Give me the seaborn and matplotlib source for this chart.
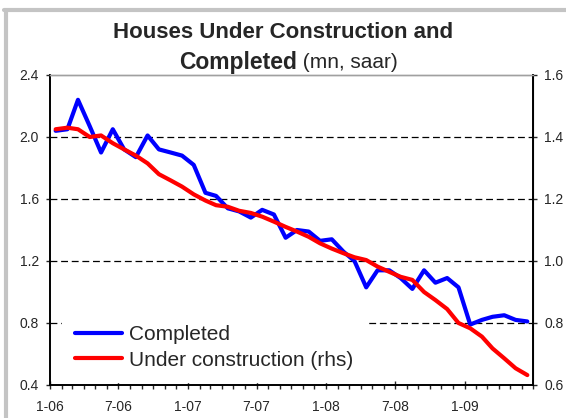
import numpy as np
import pandas as pd
import matplotlib
matplotlib.use("Agg")
import matplotlib.pyplot as plt
import matplotlib.dates as mdates
import matplotlib.ticker as mticker
import seaborn as sns

# monthly data, Jan 2006 - Jun 2009 (mn units, saar)
months = pd.date_range("2006-01-01", periods=42, freq="MS")
completed = [2.04, 2.05, 2.24, 2.07, 1.90, 2.05, 1.92, 1.87, 2.01, 1.92, 1.90, 1.88,
             1.82, 1.64, 1.62, 1.54, 1.52, 1.48, 1.53, 1.50, 1.35, 1.40, 1.39, 1.33,
             1.34, 1.26, 1.20, 1.03, 1.14, 1.14, 1.09, 1.02, 1.14, 1.06, 1.09, 1.03,
             0.79, 0.82, 0.84, 0.85, 0.82, 0.81]
under_construction = [1.425, 1.43, 1.425, 1.40, 1.405, 1.38, 1.36, 1.34, 1.315, 1.28, 1.26, 1.24,
                      1.215, 1.195, 1.18, 1.175, 1.162, 1.155, 1.143, 1.127, 1.11, 1.095, 1.078, 1.057,
                      1.04, 1.025, 1.012, 1.003, 0.982, 0.965, 0.949, 0.939, 0.90, 0.874, 0.845, 0.80,
                      0.783, 0.756, 0.718, 0.686, 0.654, 0.632]
x_tick_dates = ["2006-01-01", "2006-07-01", "2007-01-01", "2007-07-01",
                "2008-01-01", "2008-07-01", "2009-01-01"]
x_tick_labels = ["1-06", "7-06", "1-07", "7-07", "1-08", "7-08", "1-09"]
left_ticks = [0.4, 0.8, 1.2, 1.6, 2.0, 2.4]
right_ticks = [0.6, 0.8, 1.0, 1.2, 1.4, 1.6]

sns.set_style("white")
plt.rcParams["font.family"] = ["Liberation Sans", "DejaVu Sans"]

df = pd.DataFrame({"date": months + pd.Timedelta(days=15),
                   "completed": completed,
                   "under": under_construction})

fig = plt.figure(figsize=(5.66, 4.18), dpi=100)
ax = fig.add_axes([50 / 566, 1 - 385 / 418, 483 / 566, 310 / 418])
ax2 = ax.twinx()

sns.lineplot(data=df, x="date", y="completed", ax=ax, color="#0000ff", lw=3, legend=False)
sns.lineplot(data=df, x="date", y="under", ax=ax2, color="#ff0000", lw=3, legend=False)

ax.set_xlim(pd.Timestamp("2006-01-01"), pd.Timestamp("2009-07-01"))
ax.set_ylim(0.4, 2.4)
ax2.set_ylim(0.6, 1.6)
ax.set_yticks(left_ticks)
ax2.set_yticks(right_ticks)
ax.yaxis.set_major_formatter(plt.FormatStrFormatter("%.1f"))
ax2.yaxis.set_major_formatter(plt.FormatStrFormatter("%.1f"))
ax.set_xlabel("")
ax.set_ylabel("")
ax2.set_ylabel("")

ax.xaxis.set_major_locator(mticker.FixedLocator(mdates.date2num(pd.to_datetime(x_tick_dates))))
ax.xaxis.set_major_formatter(mticker.FixedFormatter(x_tick_labels))
ax.xaxis.set_minor_locator(mdates.MonthLocator())

# dashed grid at inner levels only
for v in [0.8, 1.2, 1.6, 2.0]:
    ax.axhline(v, color="black", lw=0.9, linestyle=(0, (5.5, 3)), zorder=0)

for s in ["left", "bottom"]:
    ax.spines[s].set_color("black")
    ax.spines[s].set_linewidth(1.4)
ax2.spines["right"].set_color("black")
ax2.spines["right"].set_linewidth(1.4)
for a in (ax, ax2):
    a.spines["top"].set_color("#a0a0a0")
    a.spines["top"].set_linewidth(1.0)
ax2.spines["left"].set_visible(False)
ax2.spines["bottom"].set_visible(False)

ax.tick_params(axis="y", direction="out", length=3, width=1, labelsize=10, pad=5, left=True)
ax2.tick_params(axis="y", direction="out", length=3, width=1, labelsize=10, pad=5, right=True)
ax.tick_params(axis="x", which="major", direction="inout", length=6, width=1, labelsize=10, pad=8, bottom=True)
ax.tick_params(axis="x", which="minor", direction="out", length=3, width=1, bottom=True)

leg = ax2.legend(handles=[ax.lines[0], ax2.lines[0]],
                 labels=["Completed", "Under construction (rhs)"],
                 loc="upper left", bbox_to_anchor=(62 / 566, 1 - 313 / 418),
                 bbox_transform=fig.transFigure, fontsize=15, frameon=True,
                 fancybox=False, framealpha=1, facecolor="white", edgecolor="white",
                 handlelength=2.3, handletextpad=0.3, labelspacing=0.3,
                 borderpad=0.6, borderaxespad=0)

# title
fig.text(283 / 566, 1 - 32 / 418, "Houses Under Construction and", ha="center", va="center",
         fontsize=16, fontweight="bold")
fig.text(297 / 566, 1 - 62 / 418, "Completed", ha="right", va="center",
         fontsize=16.5, fontweight="bold")
fig.text(297 / 566, 1 - 62 / 418, " (mn, saar)", ha="left", va="center", fontsize=15)

# grey frame of the original screenshot
fig.add_artist(plt.Line2D([4 / 566, 1], [1 - 10 / 418, 1 - 10 / 418], transform=fig.transFigure,
                          color="#c4c4c4", lw=3))
fig.add_artist(plt.Line2D([6 / 566, 6 / 566], [0, 1 - 10 / 418], transform=fig.transFigure,
                          color="#c4c4c4", lw=3))

fig.savefig("out.png", dpi=100)
